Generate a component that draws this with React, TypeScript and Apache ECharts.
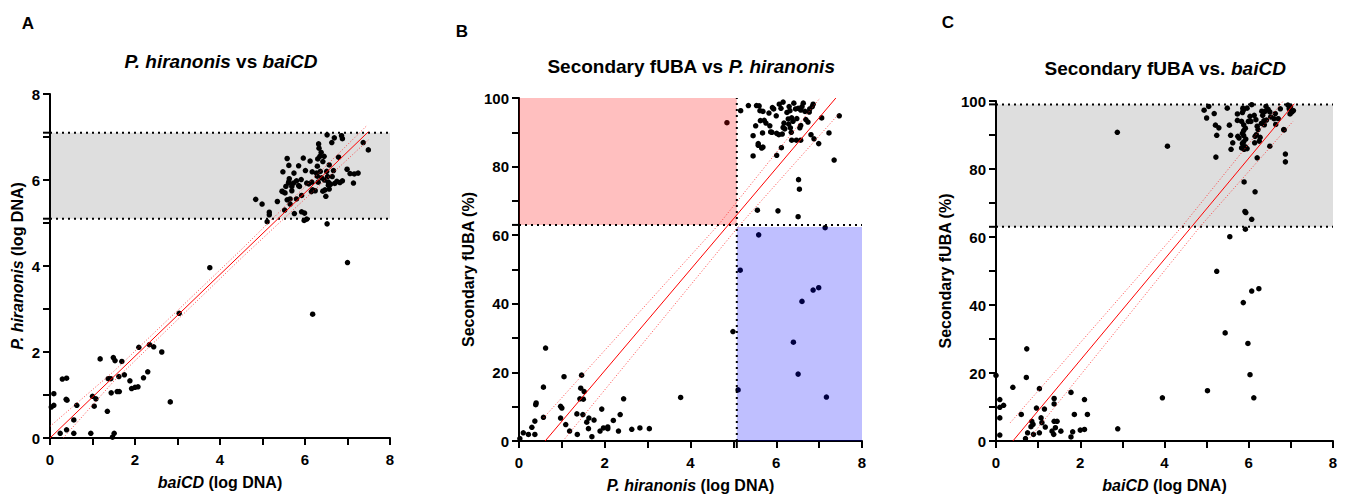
import React, { useEffect, useRef } from "react";
import * as echarts from "echarts";

const FONT = '"Liberation Sans", Arial, Helvetica, sans-serif';

// ---------- Panel A: P. hiranonis (y) vs baiCD (x), log DNA ----------
const panelAPoints: number[][] = [
  [0.03, 0.72], [0.09, 1.03], [0.09, 0.76], [0.29, 1.37], [0.39, 1.39], [0.38, 0.9], [0.4, 0.88],
  [0.63, 0.76], [0.56, 0.42], [0.24, 0.11], [0.39, 0.19], [0.56, 0.11], [0.96, 0.11], [1.0, 0.97],
  [1.04, 0.74], [1.08, 0.91], [1.18, 1.84], [1.35, 0.62], [1.37, 1.38], [1.43, 1.38], [1.44, 1.05],
  [1.47, 0.02], [1.51, 0.11], [1.49, 1.87], [1.53, 1.8], [1.62, 1.43], [1.58, 1.08], [1.63, 1.08],
  [1.69, 1.78], [1.75, 1.47], [1.88, 1.33], [1.92, 1.15], [2.0, 1.18], [2.07, 1.19], [2.09, 2.11],
  [2.2, 1.4], [2.3, 1.54], [2.34, 2.17], [2.44, 2.12], [2.63, 2.0], [2.83, 0.84], [3.04, 2.9],
  [3.76, 3.96], [6.18, 2.88], [7.0, 4.08],
  [4.84, 5.55], [4.99, 5.44], [5.11, 5.03], [5.16, 5.25], [5.16, 5.19], [5.35, 5.5], [5.48, 6.19],
  [5.52, 5.3], [5.58, 6.5], [5.62, 6.34], [5.62, 5.96], [5.58, 5.54], [5.65, 5.56], [5.69, 5.85],
  [5.69, 5.75], [5.63, 6.03], [5.74, 6.16], [5.8, 5.98], [5.85, 6.33], [5.85, 5.87], [5.91, 6.01],
  [5.92, 5.26], [5.96, 6.51], [5.99, 5.23], [6.01, 6.22], [6.04, 5.93], [5.98, 5.06], [6.04, 5.09],
  [6.12, 6.44], [6.17, 6.19], [6.16, 5.95], [6.18, 5.77], [6.24, 5.75], [6.32, 6.84], [6.33, 6.74],
  [6.3, 6.49], [6.35, 6.55], [6.38, 6.64], [6.29, 6.32], [6.27, 6.16], [6.42, 6.43], [6.39, 6.05],
  [6.31, 5.95], [6.51, 6.2], [6.53, 6.08], [6.57, 6.35], [6.52, 7.05], [6.55, 5.95], [6.55, 5.88],
  [6.59, 5.91], [6.47, 5.77], [6.42, 5.74], [6.57, 5.79], [6.49, 5.62], [6.52, 4.98], [6.63, 6.87],
  [6.69, 6.98], [6.79, 6.53], [6.67, 6.22], [6.64, 6.08], [6.75, 5.97], [6.86, 7.03], [6.88, 6.96],
  [6.82, 5.94], [6.88, 5.98], [6.99, 6.25], [7.06, 6.15], [7.16, 6.14], [7.25, 6.16], [7.14, 5.93],
  [7.37, 6.87], [7.49, 6.7], [5.73, 5.93], [5.92, 5.64], [5.8, 5.56], [5.53, 5.7], [5.46, 5.74],
  [5.65, 5.44], [5.47, 5.73], [5.61, 5.93], [5.55, 5.85], [5.75, 5.22], [5.87, 5.85], [6.09, 5.91],
  [6.15, 5.73], [6.29, 6.09], [6.36, 6.2], [6.46, 6.0], [6.6, 5.9], [6.7, 5.92], [6.45, 6.55],
];
const panelAFit: number[][] = [[0, 0], [7.49, 7.12]];
const panelACiUpper: number[][] = [[0, 0.27], [1.5, 1.55], [4.5, 4.38], [7.47, 7.28]];
const panelACiLower: number[][] = [[0.31, 0], [1.5, 1.32], [4.5, 4.18], [7.49, 6.93]];
const panelABand: number[] = [5.1, 7.1];

// ---------- Panel B: Secondary fUBA (%) vs P. hiranonis ----------
const panelBPoints: number[][] = [
  [0.02, 0.7], [0.1, 2.4], [0.22, 1.9], [0.3, 4.0], [0.39, 10.6], [0.4, 11.1], [0.37, 5.8], [0.37, 1.9],
  [0.57, 15.7], [0.57, 6.9], [0.62, 27.1], [0.97, 10.1], [1.0, 9.6], [0.97, 6.7], [1.05, 18.75],
  [1.09, 4.8], [1.18, 2.9], [1.35, 7.9], [1.36, 1.9], [1.42, 12.3], [1.44, 15.4], [1.46, 19.2],
  [1.5, 12.2], [1.49, 7.7], [1.52, 14.4], [1.58, 5.5], [1.62, 3.6], [1.63, 6.7], [1.7, 1.25],
  [1.75, 6.1], [1.89, 2.9], [1.93, 9.3], [1.97, 3.8], [2.07, 4.1], [2.07, 3.6], [2.2, 6.0],
  [2.32, 2.9], [2.36, 7.7], [2.44, 12.3], [2.63, 3.4], [2.82, 3.8], [3.04, 3.6], [3.77, 12.7],
  [4.85, 92.8], [4.99, 31.9], [5.11, 14.9], [5.16, 49.8], [5.59, 60.1], [6.4, 28.8], [6.51, 19.5],
  [6.6, 40.7], [6.86, 44.0], [6.99, 44.7], [7.14, 62.2], [7.17, 12.8],
  [5.17, 96.3], [5.35, 97.8], [5.54, 97.8], [5.6, 97.7], [5.62, 96.3], [5.69, 96.1], [5.52, 91.9],
  [5.63, 93.4], [5.72, 93.5], [5.76, 92.7], [5.85, 91.9], [5.83, 95.6], [5.94, 96.8], [5.91, 97.2],
  [6.0, 94.8], [6.07, 98.2], [6.16, 98.8], [6.11, 97.0], [6.3, 97.5], [6.32, 96.3], [6.41, 98.5],
  [6.51, 97.0], [6.57, 96.5], [6.63, 98.5], [6.67, 96.1], [6.78, 96.8], [6.77, 95.9], [6.84, 97.5],
  [6.86, 98.2], [6.69, 93.7], [6.74, 93.0], [6.28, 93.9], [6.36, 94.2], [6.39, 93.2], [6.29, 92.4],
  [6.18, 92.7], [6.16, 91.4], [6.33, 91.3], [6.57, 92.0], [6.55, 91.3], [6.01, 89.7], [5.9, 90.0],
  [5.87, 90.1], [6.06, 89.3], [6.14, 89.5], [5.68, 89.8], [5.46, 89.0], [5.58, 86.7], [5.58, 86.2],
  [5.69, 85.7], [5.66, 85.4], [5.46, 83.1], [6.12, 85.5], [6.01, 83.3], [6.36, 87.7], [6.47, 87.7],
  [6.57, 87.7], [6.81, 89.3], [6.88, 88.1], [6.99, 86.7], [7.06, 94.2], [7.23, 89.8], [7.47, 94.8],
  [7.35, 81.9], [5.56, 67.3], [6.04, 67.1], [6.51, 65.4], [6.52, 76.2], [6.54, 73.4],
  [6.25, 95.8], [6.45, 96.8], [6.6, 97.5], [6.48, 94.0], [6.35, 90.0], [6.2, 91.0],
];
const panelBFit: number[][] = [[0.61, 0], [7.39, 100]];
const panelBCiUpper: number[][] = [[0.57, 6.7], [4.65, 63], [7.02, 100]];
const panelBCiLower: number[][] = [[1.07, 0.7], [5.15, 63], [7.44, 95.1]];
const panelBCutX = 5.08;
const panelBCutY = 63;

// ---------- Panel C: Secondary fUBA (%) vs baiCD ----------
const panelCPoints: number[][] = [
  [0.0, 19.3], [0.09, 12.2], [0.09, 9.9], [0.18, 10.5], [0.09, 6.8], [0.09, 1.75], [0.4, 15.8],
  [0.6, 7.8], [0.73, 27.1], [0.72, 18.7], [0.7, 0.7], [0.75, 2.4], [0.85, 5.8], [0.88, 4.9],
  [0.83, 4.2], [0.89, 1.95], [0.96, 9.7], [1.03, 15.4], [1.03, 2.4], [1.07, 6.8], [1.09, 5.4],
  [1.15, 9.4], [1.17, 4.1], [1.38, 12.5], [1.38, 10.9], [1.38, 5.8], [1.45, 5.8], [1.33, 2.9],
  [1.37, 1.95], [1.41, 3.9], [1.54, 2.9], [1.78, 14.3], [1.78, 1.2], [1.82, 2.7], [1.86, 7.8],
  [2.0, 3.2], [2.1, 3.4], [2.1, 12.2], [2.17, 7.8], [2.89, 3.6], [2.88, 90.8], [3.95, 12.7],
  [4.07, 86.7], [5.02, 14.8], [5.24, 49.9], [5.44, 31.8], [5.55, 60.1], [5.87, 40.7], [5.92, 62.3],
  [5.98, 28.7], [6.03, 19.5], [6.07, 44.1], [6.24, 44.8], [6.12, 12.7], [5.89, 76.2], [6.15, 73.3],
  [5.91, 67.5], [5.93, 67.2], [6.07, 65.2], [6.87, 82.1], [6.87, 84.4], [6.84, 91.5], [6.5, 86.7],
  [5.22, 83.5], [6.2, 83.3],
  [4.94, 97.3], [5.05, 98.4], [5.0, 95.0], [5.18, 96.3], [5.21, 92.9], [5.29, 92.1], [5.24, 89.9],
  [5.49, 97.9], [5.54, 92.9], [5.57, 89.9], [5.62, 87.7], [5.58, 85.8], [5.73, 96.2], [5.73, 94.3],
  [5.74, 89.6], [5.77, 89.1], [5.86, 97.9], [5.87, 97.3], [5.85, 96.6], [5.83, 94.0], [5.88, 93.0],
  [5.92, 92.0], [5.88, 91.3], [5.85, 90.5], [5.88, 89.8], [5.93, 88.8], [5.88, 88.0], [5.85, 87.5],
  [5.92, 86.5], [5.96, 86.0], [5.83, 86.2], [5.89, 85.8], [5.96, 97.9], [6.07, 98.9], [6.03, 95.5],
  [6.13, 95.8], [6.17, 94.5], [5.99, 94.0], [6.05, 94.0], [6.2, 92.6], [6.22, 91.6], [6.18, 90.1],
  [6.15, 89.6], [6.27, 89.3], [6.25, 88.2], [6.14, 87.7], [6.31, 97.0], [6.41, 98.4], [6.46, 97.5],
  [6.5, 96.8], [6.38, 96.9], [6.33, 95.8], [6.36, 94.2], [6.42, 94.4], [6.3, 93.4], [6.37, 93.0],
  [6.52, 95.3], [6.6, 94.8], [6.63, 96.3], [6.7, 94.8], [6.64, 93.1], [6.75, 97.7], [6.93, 98.8],
  [6.99, 98.4], [6.96, 97.7], [7.02, 96.7], [7.06, 97.2], [6.98, 96.2], [6.83, 91.6],
];
const panelCFit: number[][] = [[0.4, 0], [7.08, 99.2]];
const panelCCiUpper: number[][] = [[0.34, 5.4], [4.41, 63], [6.82, 100]];
const panelCCiLower: number[][] = [[0.81, 1], [4.84, 63], [7.05, 94]];
const panelCBand: number[] = [63, 99];

// ---------- helpers ----------
const black = "#000";

function rectSeries(idx: number, rects: number[][], fill: string, z: number) {
  return {
    type: "custom",
    xAxisIndex: idx,
    yAxisIndex: idx,
    z,
    silent: true,
    data: rects,
    renderItem: (_p: any, api: any) => {
      const a = api.coord([api.value(0), api.value(1)]);
      const b = api.coord([api.value(2), api.value(3)]);
      return {
        type: "rect",
        shape: {
          x: Math.min(a[0], b[0]),
          y: Math.min(a[1], b[1]),
          width: Math.abs(b[0] - a[0]),
          height: Math.abs(b[1] - a[1]),
        },
        style: { fill },
      };
    },
  };
}

function extraTicks(idx: number, values: number[], dir: "y" | "x") {
  return {
    type: "custom",
    xAxisIndex: idx,
    yAxisIndex: idx,
    z: 6,
    silent: true,
    clip: false,
    data: values.map((v) => [v]),
    renderItem: (_p: any, api: any) => {
      const v = api.value(0);
      if (dir === "y") {
        const p = api.coord([0, v]);
        return { type: "line", shape: { x1: p[0] - 7, y1: p[1], x2: p[0], y2: p[1] }, style: { stroke: black, lineWidth: 2 } };
      }
      const p = api.coord([v, 0]);
      return { type: "line", shape: { x1: p[0], y1: p[1], x2: p[0], y2: p[1] + 7 }, style: { stroke: black, lineWidth: 2 } };
    },
  };
}

function lineSeries(idx: number, data: number[][], color: string, type: any, width: number, z: number) {
  return {
    type: "line",
    xAxisIndex: idx,
    yAxisIndex: idx,
    data,
    showSymbol: false,
    symbol: "none",
    silent: true,
    z,
    lineStyle: { color, width, type },
  };
}

function scatterSeries(idx: number, data: number[][]) {
  return {
    type: "scatter",
    xAxisIndex: idx,
    yAxisIndex: idx,
    data,
    symbolSize: 5.5,
    silent: true,
    z: 2,
    itemStyle: { color: black, opacity: 1 },
  };
}

const nameStyle = {
  fontSize: 16,
  fontWeight: "bold",
  color: black,
  fontFamily: FONT,
  rich: { i: { fontSize: 16, fontWeight: "bold", fontStyle: "italic", color: black, fontFamily: FONT } },
};

function valueAxis(idx: number, max: number, step: number, labelEvery: number, name: string, nameGap: number, margin: number) {
  return {
    type: "value",
    gridIndex: idx,
    min: 0,
    max,
    interval: step,
    name,
    nameLocation: "middle",
    nameGap,
    nameTextStyle: nameStyle,
    splitLine: { show: false },
    axisLine: { show: true, lineStyle: { color: black, width: 2 } },
    axisTick: { show: true, length: 7, lineStyle: { color: black, width: 2 } },
    axisLabel: {
      color: black,
      fontSize: 15,
      fontWeight: "bold",
      fontFamily: FONT,
      margin,
      formatter: (v: number) => (Math.abs(v % labelEvery) < 1e-9 ? String(v) : ""),
    },
  };
}

const dotted = [2, 4];
const ciDash = [1, 2];
const red = "#ff0000";
const ciRed = "rgba(255,40,40,0.85)";

export default function App() {
  const ref = useRef<HTMLDivElement>(null);
  useEffect(() => {
    if (!ref.current) return;
    const chart = echarts.init(ref.current, undefined, { renderer: "svg" });
    const titleRich = { i: { fontSize: 19, fontWeight: "bold", fontStyle: "italic", fontFamily: FONT, fill: black } };
    const letter = (t: string, x: number, y: number) => ({
      type: "text", x, y,
      style: { text: t, fontSize: 17, fontWeight: "bold", fontFamily: FONT, fill: black, align: "center", verticalAlign: "middle" },
    });
    const title = (t: string, x: number, y: number) => ({
      type: "text", x, y,
      style: { text: t, rich: titleRich, fontSize: 19, fontWeight: "bold", fontFamily: FONT, fill: black, align: "center", verticalAlign: "middle" },
    });
    const option: any = {
      animation: false,
      backgroundColor: "#fff",
      grid: [
        { left: 50, top: 94, width: 340, height: 344 },
        { left: 519, top: 98, width: 343, height: 347 },
        { left: 996, top: 101, width: 337, height: 342 },
      ],
      xAxis: [
        valueAxis(0, 8, 1, 2, "{i|baiCD} (log DNA)", 36, 14),
        valueAxis(1, 8, 1, 2, "{i|P. hiranonis} (log DNA)", 36, 14),
        valueAxis(2, 8, 1, 2, "{i|baiCD} (log DNA)", 36, 14),
      ],
      yAxis: [
        valueAxis(0, 8, 1, 2, "{i|P. hiranonis} (log DNA)", 25, 10),
        valueAxis(1, 100, 10, 20, "Secondary fUBA (%)", 43, 10),
        valueAxis(2, 100, 10, 20, "Secondary fUBA (%)", 43, 10),
      ],
      graphic: [
        letter("A", 28, 23),
        letter("B", 462, 31),
        letter("C", 948, 22),
        title("{i|P. hiranonis} vs {i|baiCD}", 221, 61),
        title("Secondary fUBA vs {i|P. hiranonis}", 691, 66),
        title("Secondary fUBA vs. {i|baiCD}", 1165, 68),
      ],
      series: [
        // Panel A
        rectSeries(0, [[0, panelABand[0], 8, panelABand[1]]], "#dedede", 0),
        scatterSeries(0, panelAPoints),
        lineSeries(0, [[0, panelABand[0]], [8, panelABand[0]]], black, dotted, 2, 4),
        lineSeries(0, [[0, panelABand[1]], [8, panelABand[1]]], black, dotted, 2, 4),
        lineSeries(0, panelACiUpper, ciRed, ciDash, 1, 5),
        lineSeries(0, panelACiLower, ciRed, ciDash, 1, 5),
        lineSeries(0, panelAFit, red, "solid", 1, 5),
        extraTicks(0, panelABand, "y"),
        // Panel B
        scatterSeries(1, panelBPoints),
        rectSeries(1, [[0, panelBCutY, panelBCutX, 100]], "rgba(255,0,0,0.25)", 3),
        rectSeries(1, [[panelBCutX, 0, 8, panelBCutY - 0.6]], "rgba(0,0,255,0.25)", 3),
        lineSeries(1, [[0, panelBCutY], [8, panelBCutY]], black, dotted, 2, 4),
        lineSeries(1, [[panelBCutX, 0], [panelBCutX, 100]], black, dotted, 2, 4),
        lineSeries(1, panelBCiUpper, ciRed, ciDash, 1, 5),
        lineSeries(1, panelBCiLower, ciRed, ciDash, 1, 5),
        lineSeries(1, panelBFit, red, "solid", 1, 5),
        extraTicks(1, [panelBCutY], "y"),
        extraTicks(1, [panelBCutX], "x"),
        // Panel C
        rectSeries(2, [[0, panelCBand[0], 8, panelCBand[1]]], "#dedede", 0),
        scatterSeries(2, panelCPoints),
        lineSeries(2, [[0, panelCBand[0]], [8, panelCBand[0]]], black, dotted, 2, 4),
        lineSeries(2, [[0, panelCBand[1]], [8, panelCBand[1]]], black, dotted, 2, 4),
        lineSeries(2, panelCCiUpper, ciRed, ciDash, 1, 5),
        lineSeries(2, panelCCiLower, ciRed, ciDash, 1, 5),
        lineSeries(2, panelCFit, red, "solid", 1, 5),
        extraTicks(2, panelCBand, "y"),
      ],
    };
    chart.setOption(option);
    return () => chart.dispose();
  }, []);
  return <div ref={ref} style={{ position: "absolute", left: 0, top: 0, width: 1349, height: 498 }} />;
}
